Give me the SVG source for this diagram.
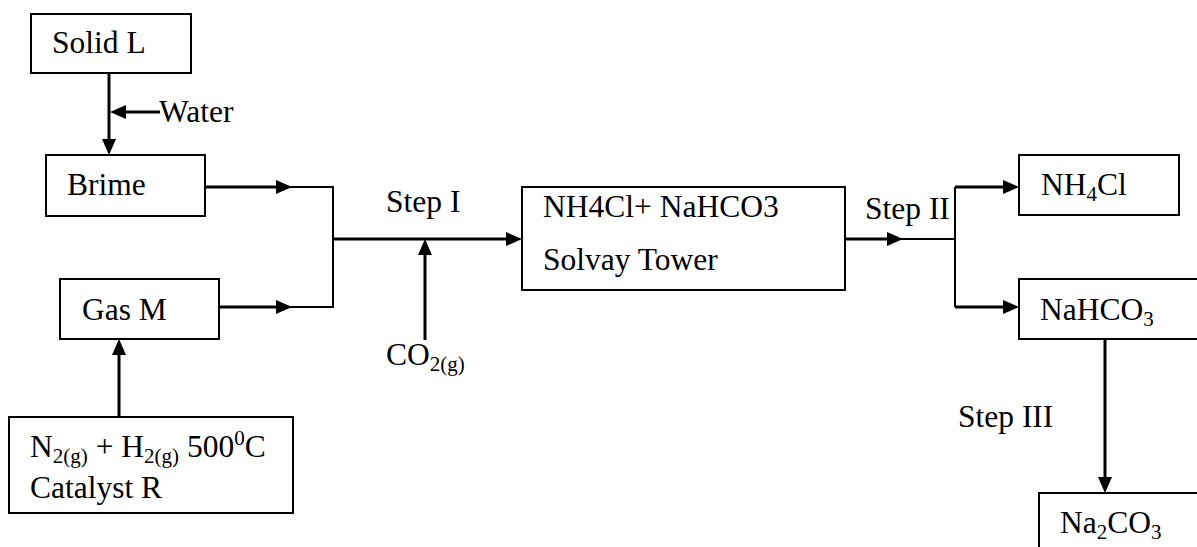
<svg xmlns="http://www.w3.org/2000/svg" width="1197" height="547" viewBox="0 0 1197 547">
<style>
.box{fill:#fff;stroke:#000;stroke-width:2}
.t{font-family:"Liberation Serif","Times New Roman",serif;font-size:31.5px;fill:#000}
.sub{font-size:21px}
.c{fill:none;stroke:#000;stroke-width:3}
.thin{fill:none;stroke:#000;stroke-width:2}
</style>
<defs>
<marker id="ah" markerUnits="userSpaceOnUse" markerWidth="18" markerHeight="16" refX="6" refY="7" orient="auto">
<path d="M0,0 L16,7 L0,14 z" fill="#000"/>
</marker>
</defs>
<rect width="1197" height="547" fill="#fff"/>
<g id="connectors">
<path class="c" d="M109,73 V145" marker-end="url(#ah)"/>
<path class="c" d="M160,112 H120" marker-end="url(#ah)"/>
<path class="c" d="M205,187 H282" marker-end="url(#ah)"/>
<path class="thin" d="M290,187 H333 V307 H290"/>
<path class="c" d="M219,307 H282" marker-end="url(#ah)"/>
<path class="c" d="M333,239 H512" marker-end="url(#ah)"/>
<path class="c" d="M425,340 V249" marker-end="url(#ah)"/>
<path class="c" d="M845,239 H893" marker-end="url(#ah)"/>
<path class="thin" d="M900,239 H955"/>
<path class="thin" d="M955,187 V307"/>
<path class="c" d="M955,187 H1009" marker-end="url(#ah)"/>
<path class="c" d="M955,307 H1009" marker-end="url(#ah)"/>
<path class="c" d="M1105,339 V483" marker-end="url(#ah)"/>
<path class="c" d="M119,417 V349" marker-end="url(#ah)"/>
</g>
<g id="solidL"><rect class="box" x="31" y="14" width="160" height="59"/><text class="t" x="52" y="53">Solid L</text></g>
<g id="water"><text class="t" x="159" y="122">Water</text></g>
<g id="brime"><rect class="box" x="46" y="155" width="159" height="61"/><text class="t" x="67" y="195">Brime</text></g>
<g id="gasM"><rect class="box" x="60" y="279" width="159" height="60"/><text class="t" x="82" y="320">Gas M</text></g>
<g id="n2h2"><rect class="box" x="9" y="417" width="284" height="96"/>
<text class="t" x="30" y="457">N<tspan class="sub" dy="6">2(g)</tspan><tspan dy="-6"> + H</tspan><tspan class="sub" dy="6">2(g)</tspan><tspan dy="-6"> 500</tspan><tspan class="sub" dy="-12">0</tspan><tspan dy="12">C</tspan></text>
<text class="t" x="30" y="498">Catalyst R</text></g>
<g id="step1"><text class="t" x="386" y="212">Step I</text></g>
<g id="co2"><text class="t" x="386" y="365">CO<tspan class="sub" dy="6">2(g)</tspan></text></g>
<g id="solvay"><rect class="box" x="522" y="187" width="323" height="103"/><text class="t" x="543" y="217">NH4Cl+ NaHCO3</text><text class="t" x="543" y="270">Solvay Tower</text></g>
<g id="step2"><text class="t" x="865" y="219">Step II</text></g>
<g id="nh4cl"><rect class="box" x="1019" y="155" width="160" height="60"/><text class="t" x="1041" y="195">NH<tspan class="sub" dy="6">4</tspan><tspan dy="-6">Cl</tspan></text></g>
<g id="nahco3"><rect class="box" x="1019" y="279" width="190" height="60"/><text class="t" x="1040" y="320">NaHCO<tspan class="sub" dy="6">3</tspan></text></g>
<g id="step3"><text class="t" x="958" y="427">Step III</text></g>
<g id="na2co3"><rect class="box" x="1039" y="493" width="170" height="70"/><text class="t" x="1060" y="533">Na<tspan class="sub" dy="6">2</tspan><tspan dy="-6">CO</tspan><tspan class="sub" dy="6">3</tspan></text></g>
</svg>
